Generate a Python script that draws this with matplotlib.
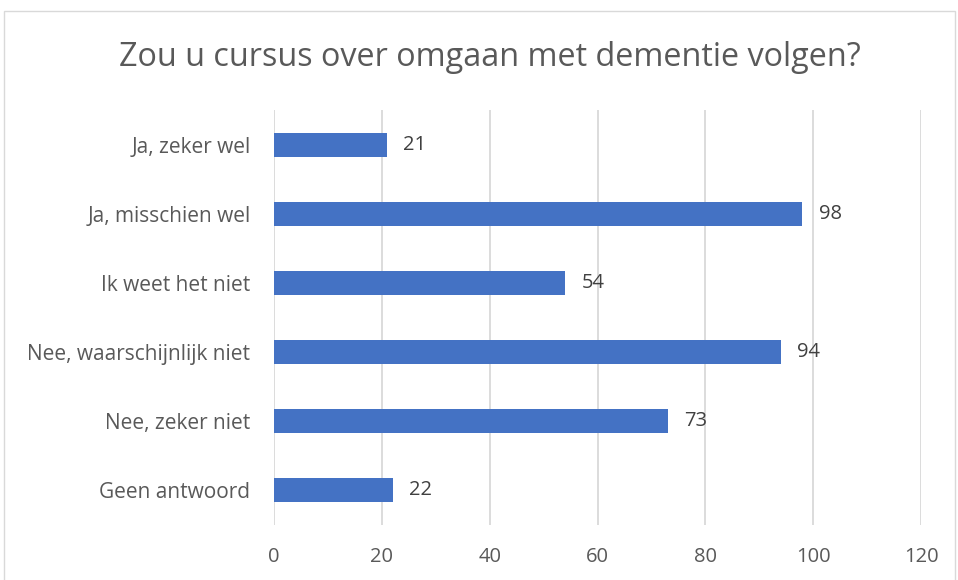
import matplotlib.pyplot as plt
from matplotlib.patches import Rectangle

categories = ["Ja, zeker wel", "Ja, misschien wel", "Ik weet het niet",
              "Nee, waarschijnlijk niet", "Nee, zeker niet", "Geen antwoord"]
values = [21, 98, 54, 94, 73, 22]
xticks = [0, 20, 40, 60, 80, 100, 120]

plt.rcParams['font.family'] = ['Open Sans', 'DejaVu Sans']
text_color = '#595959'
bar_color = '#4472C4'

fig = plt.figure(figsize=(9.58, 5.8), dpi=100)
ax = fig.add_axes([274 / 958, 1 - 525 / 580, (921 - 274) / 958, (525 - 110) / 580])

ypos = list(range(len(categories)))
ax.barh(ypos, values, height=0.345, color=bar_color, zorder=3)
for y, v in zip(ypos, values):
    ax.text(v + 3.0, y, str(v), va='center', ha='left', fontsize=14.5, color='#404040')

ax.set_ylim(len(categories) - 0.5, -0.5)
ax.set_xlim(0, 120)
ax.set_xticks(xticks)
ax.set_xticklabels([str(t) for t in xticks], fontsize=14.5, color=text_color)
ax.set_yticks(ypos)
ax.set_yticklabels(categories, fontsize=15, color=text_color)
ax.tick_params(length=0)
ax.tick_params(axis='x', pad=16)
ax.tick_params(axis='y', pad=17)
ax.grid(axis='x', color='#D9D9D9', linewidth=1.3, zorder=0)
for s in ax.spines.values():
    s.set_visible(False)

fig.text(490 / 958, 1 - 58 / 580, "Zou u cursus over omgaan met dementie volgen?",
         ha='center', va='center', fontsize=23.3, color=text_color)

# chart border
fig.patches.append(Rectangle((4 / 958, -0.05), (955 - 4) / 958, 1.05 - 11 / 580,
                             transform=fig.transFigure, fill=False,
                             edgecolor='#D9D9D9', linewidth=1))

fig.savefig('out.png', dpi=100)
